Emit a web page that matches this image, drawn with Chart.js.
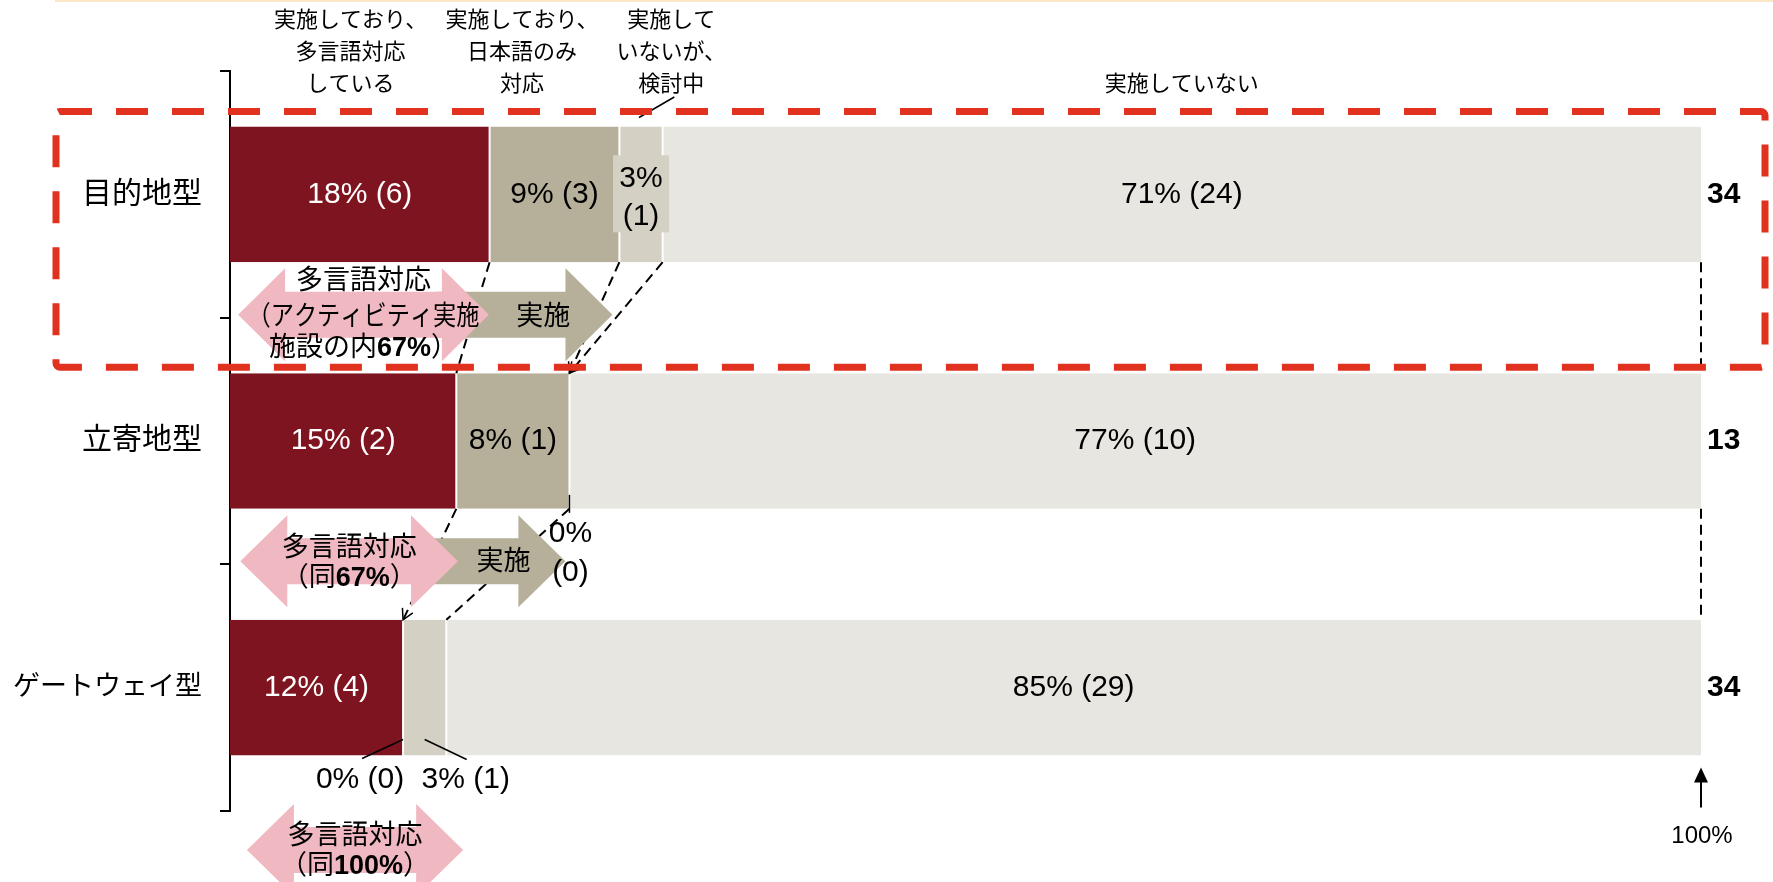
<!DOCTYPE html>
<html>
<head>
<meta charset="utf-8">
<script src="https://cdn.jsdelivr.net/npm/chart.js@4.4.0/dist/chart.umd.min.js"></script>
<style>
  html, body { margin: 0; padding: 0; background: #fff; }
  canvas { display: block; }
</style>
</head>
<body>
<canvas id="myChart" width="1773" height="882"></canvas>
<script>
// data (facility counts)
const categories = ['目的地型', '立寄地型', 'ゲートウェイ型'];
const multiLang = [6, 2, 4];      // 実施しており、多言語対応している
const japaneseOnly = [3, 1, 0];   // 実施しており、日本語のみ対応
const considering = [1, 0, 1];    // 実施していないが、検討中
const notDone = [24, 10, 29];     // 実施していない
const totals = [34, 13, 34];

const headerLines = [
    ['実施しており、', '多言語対応', 'している'],
    ['実施しており、', '日本語のみ', '対応'],
    ['実施して', 'いないが、', '検討中'],
    ['実施していない']
];
const headerAt = [8.2, 19.85, 30.0, 64.7];   // where each header sits on the % axis

const colors = ['#7E141F', '#B6AF9A', '#D4D0C4', '#E7E6E0'];
const pink = '#F0B8C0';
const tan = '#B6AF9A';
const red = '#E1321F';

const counts = [multiLang, japaneseOnly, considering, notDone];
const share = (arr) => arr.map((c, i) => c / totals[i] * 100);

const FONT = '"Liberation Sans", "Noto Sans CJK JP", sans-serif';
const font = (size, bold) => (bold ? 'bold ' : '') + size + 'px ' + FONT;

// draws a line made of normal/bold pieces, centred on cx
function runs(c, parts, cx, cy, size, maxW) {
    let w = 0;
    parts.forEach(p => { c.font = font(size, p.b); p.w = c.measureText(p.t).width; w += p.w; });
    const k = maxW && w > maxW ? maxW / w : 1;
    c.save();
    c.translate(cx, cy);
    c.scale(k, 1);
    c.textAlign = 'left';
    c.textBaseline = 'middle';
    let x = -w / 2;
    parts.forEach(p => { c.font = font(size, p.b); c.fillText(p.t, x, 0); x += p.w; });
    c.restore();
}

function dblArrow(c, x0, x1, cy, hl, hh, sh, color) {
    c.beginPath();
    c.moveTo(x0, cy);
    c.lineTo(x0 + hl, cy - hh / 2);
    c.lineTo(x0 + hl, cy - sh / 2);
    c.lineTo(x1 - hl, cy - sh / 2);
    c.lineTo(x1 - hl, cy - hh / 2);
    c.lineTo(x1, cy);
    c.lineTo(x1 - hl, cy + hh / 2);
    c.lineTo(x1 - hl, cy + sh / 2);
    c.lineTo(x0 + hl, cy + sh / 2);
    c.lineTo(x0 + hl, cy + hh / 2);
    c.closePath();
    c.fillStyle = color;
    c.fill();
}

function rightArrow(c, x0, x1, cy, hl, hh, sh, color) {
    c.beginPath();
    c.moveTo(x0, cy - sh / 2);
    c.lineTo(x1 - hl, cy - sh / 2);
    c.lineTo(x1 - hl, cy - hh / 2);
    c.lineTo(x1, cy);
    c.lineTo(x1 - hl, cy + hh / 2);
    c.lineTo(x1 - hl, cy + sh / 2);
    c.lineTo(x0, cy + sh / 2);
    c.closePath();
    c.fillStyle = color;
    c.fill();
}

function line(c, x0, y0, x1, y1, dash, w) {
    c.save();
    c.beginPath();
    c.setLineDash(dash || []);
    c.lineWidth = w || 1.5;
    c.strokeStyle = '#000';
    c.moveTo(x0, y0);
    c.lineTo(x1, y1);
    c.stroke();
    c.restore();
}

function openHead(c, x0, y0, x1, y1) {
    const a = Math.atan2(y1 - y0, x1 - x0), L = 12;
    c.save();
    c.beginPath();
    c.lineWidth = 1.5;
    c.strokeStyle = '#000';
    c.moveTo(x1 - L * Math.cos(a - 0.5), y1 - L * Math.sin(a - 0.5));
    c.lineTo(x1, y1);
    c.lineTo(x1 - L * Math.cos(a + 0.5), y1 - L * Math.sin(a + 0.5));
    c.stroke();
    c.restore();
}

// dashed connectors between neighbouring bars: [from bar, dataset, arrowhead]
const links = [[0, 0, false], [0, 1, true], [0, 2, true], [1, 0, true], [1, 2, false]];

const topLine = {
    id: 'topLine',
    beforeDraw(chart) {
        const c = chart.ctx;
        c.save();
        c.fillStyle = '#FDE6C6';
        c.fillRect(55, 0, chart.width - 55, 2);
        c.restore();
    }
};

const notes = {
    id: 'notes',
    afterDatasetsDraw(chart) {
        const c = chart.ctx, xs = chart.scales.x, ys = chart.scales.y, area = chart.chartArea;
        const el = (d, i) => chart.getDatasetMeta(d).data[i];
        const top = e => e.y - e.height / 2;
        const bot = e => e.y + e.height / 2;
        const edge = k => ys.getPixelForValue(k - 0.5);
        const xp = v => xs.getPixelForValue(v);
        const DASH = [10, 6];

        // dashed connectors
        links.forEach(([b, d, head]) => {
            const a = el(d, b), z = el(d, b + 1);
            line(c, a.x, bot(a), z.x, top(z), DASH, 2);
            if (head) openHead(c, a.x, bot(a), z.x, top(z));
        });
        [0, 1].forEach(b => {
            const a = el(3, b), z = el(3, b + 1);
            line(c, a.x, bot(a), z.x, top(z), DASH, 2);
        });

        // block arrows
        const hh = 93, sh = 46, hl = 47;
        let cy = edge(1) - 3;
        rightArrow(c, xp(14), xp(26), cy, hl, hh, sh, tan);
        dblArrow(c, xp(0.55), xp(17.6), cy, hl, hh, sh, pink);
        c.fillStyle = '#000';
        runs(c, [{ t: '実施' }], xp(21.3), cy + 3, 27);
        let cx = (xp(0.55) + xp(17.6)) / 2;
        runs(c, [{ t: '多言語対応' }], cx, cy - 33, 27);
        runs(c, [{ t: '（アクティビティ実施' }], cx, cy + 3, 27, 232);
        runs(c, [{ t: '施設の内' }, { t: '67%', b: true }, { t: '）' }], cx, cy + 34, 27);

        cy = edge(2) - 3;
        rightArrow(c, xp(13), xp(22.8), cy, hl, hh - 1, sh, tan);
        dblArrow(c, xp(0.7), xp(15.5), cy, hl, hh - 1, sh, pink);
        c.fillStyle = '#000';
        runs(c, [{ t: '実施' }], xp(18.6), cy + 1, 27);
        cx = (xp(0.7) + xp(15.5)) / 2;
        runs(c, [{ t: '多言語対応' }], cx, cy - 13, 27);
        runs(c, [{ t: '（同' }, { t: '67%', b: true }, { t: '）' }], cx, cy + 17, 27);

        cy = edge(3) + 39;
        dblArrow(c, xp(1.15), xp(15.85), cy, hl, hh - 1, sh, pink);
        c.fillStyle = '#000';
        cx = (xp(1.15) + xp(15.85)) / 2;
        runs(c, [{ t: '多言語対応' }], cx, cy - 13, 27);
        runs(c, [{ t: '（同' }, { t: '100%', b: true }, { t: '）' }], cx, cy + 17, 27);

        // value labels
        c.textBaseline = 'middle';
        counts.forEach((arr, d) => {
            arr.forEach((n, i) => {
                const e = el(d, i);
                const pct = Math.round(n / totals[i] * 100);
                const mid = (e.base + e.x) / 2;
                const key = d + '-' + i;
                c.fillStyle = '#000';
                if (key === '2-0') {
                    c.fillStyle = colors[2];
                    c.fillRect(mid - 28, e.y - 39, 56, 77);
                    c.fillStyle = '#000';
                    runs(c, [{ t: pct + '%' }], mid, e.y - 16, 30);
                    runs(c, [{ t: '(' + n + ')' }], mid, e.y + 22, 30);
                } else if (key === '2-1') {
                    line(c, e.x, bot(e) - 14, e.x, bot(e) + 4, [], 1.5);
                    runs(c, [{ t: pct + '%' }], e.x + 1, bot(e) + 25, 30);
                    runs(c, [{ t: '(' + n + ')' }], e.x + 1, bot(e) + 64, 30);
                } else if (key === '1-2') {
                    line(c, e.x - 41, bot(e) + 3, e.x, bot(e) - 16, [], 1.5);
                    runs(c, [{ t: pct + '% (' + n + ')' }], e.x - 43, bot(e) + 24, 30);
                } else if (key === '2-2') {
                    line(c, mid + 42, bot(e) + 4, mid, bot(e) - 16, [], 1.5);
                    runs(c, [{ t: pct + '% (' + n + ')' }], mid + 41, bot(e) + 24, 30);
                } else {
                    c.fillStyle = d === 0 ? '#fff' : '#000';
                    runs(c, [{ t: pct + '% (' + n + ')' }], mid, e.y, 30);
                }
            });
        });

        // totals on the right
        c.fillStyle = '#000';
        totals.forEach((t, i) => {
            const e = el(3, i);
            c.font = font(30, true);
            c.textAlign = 'left';
            c.textBaseline = 'middle';
            c.fillText(String(t), area.right + 6, e.y);
        });

        // headers
        headerLines.forEach((lines, k) => {
            const hx = xp(headerAt[k]);
            const start = 3 - lines.length;
            lines.forEach((s, j) => runs(c, [{ t: s }], hx, 21 + (start + j) * 32, 22));
        });
        const h3 = el(2, 0);
        line(c, xp(headerAt[2]) + 3, 97, (h3.base + h3.x) / 2 - 2, top(h3) - 9, [], 1.5);

        // 100% marker
        const last = el(3, 2);
        const ax = xp(100);
        line(c, ax, bot(last) + 52, ax, bot(last) + 24, [], 2);
        c.beginPath();
        c.moveTo(ax, bot(last) + 12);
        c.lineTo(ax - 7, bot(last) + 27);
        c.lineTo(ax + 7, bot(last) + 27);
        c.closePath();
        c.fillStyle = '#000';
        c.fill();
        runs(c, [{ t: '100%' }], ax + 1, bot(last) + 81, 24);

        // red dashed frame around the first row
        const b0 = el(0, 0), b1 = el(0, 1);
        c.save();
        c.strokeStyle = red;
        c.lineWidth = 7;
        c.setLineDash([32, 24]);
        c.beginPath();
        c.roundRect(56, top(b0) - 15, chart.width - 8 - 56, top(b1) - 6 - (top(b0) - 15), 4);
        c.stroke();
        c.restore();
    }
};

new Chart(document.getElementById('myChart'), {
    type: 'bar',
    data: {
        labels: categories,
        datasets: counts.map((arr, d) => ({
            label: headerLines[d].join(''),
            data: share(arr),
            backgroundColor: colors[d],
            borderColor: '#fff',
            borderWidth: d === 0 ? { right: 1 } : d === 3 ? { left: 1 } : { left: 1, right: 1 },
            borderSkipped: false,
            categoryPercentage: 1,
            barPercentage: 0.55
        }))
    },
    options: {
        indexAxis: 'y',
        responsive: false,
        animation: false,
        devicePixelRatio: 1,
        layout: { padding: { top: 71, bottom: 71, left: 0, right: 72 } },
        plugins: { legend: { display: false }, tooltip: { enabled: false } },
        scales: {
            x: { stacked: true, min: 0, max: 100, display: false },
            y: {
                stacked: true,
                afterFit: (scale) => { scale.width = 230; },
                grid: { display: true, drawOnChartArea: false, drawTicks: true, tickLength: 10, offset: true, color: '#000', lineWidth: 2 },
                border: { display: true, color: '#000', width: 2 },
                ticks: {
                    color: '#000',
                    padding: 18,
                    font: (ctx) => ({ family: FONT, size: categories[ctx.index].length > 5 ? 27 : 30 })
                }
            }
        }
    },
    plugins: [topLine, notes]
});
</script>
</body>
</html>
